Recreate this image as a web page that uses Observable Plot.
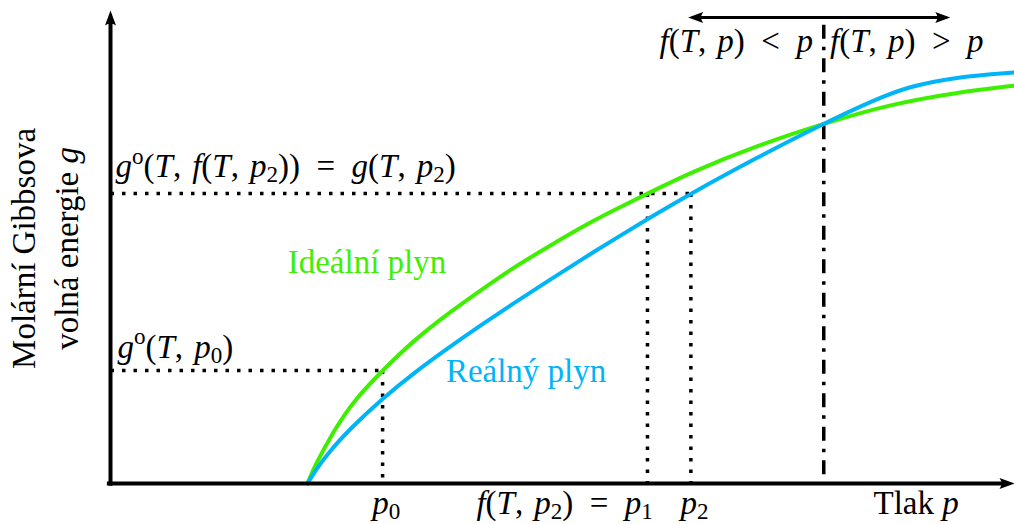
<!DOCTYPE html>
<html><head><meta charset="utf-8">
<script src="https://cdn.jsdelivr.net/npm/d3@7"></script>
<script src="https://cdn.jsdelivr.net/npm/@observablehq/plot@0.6"></script>
<style>body{margin:0;background:#fff;} #chart svg{display:block;}</style>
</head><body><div id="chart"></div>
<script>
// Ideal gas curve (pressure p, molar Gibbs energy g) — arbitrary units
const pIdeal = [2.18, 2.25, 2.47, 2.69, 3.01, 3.35, 3.73, 4.09, 4.46, 4.83, 5.20, 5.56, 5.94, 6.42, 7.16, 7.89, 8.63, 9.37, 9.99];
const gIdeal = [0, 0.34, 1.12, 1.75, 2.39, 3.02, 3.59, 4.08, 4.57, 4.99, 5.41, 5.77, 6.13, 6.58, 7.15, 7.61, 8.02, 8.27, 8.41];
// Real gas curve
const pReal = [2.18, 2.25, 2.40, 2.65, 3.01, 3.35, 3.73, 4.09, 4.46, 4.83, 5.20, 5.56, 5.94, 6.42, 7.16, 7.89, 8.44, 8.82, 9.37, 9.99];
const gReal = [0, 0.23, 0.63, 1.16, 1.80, 2.33, 2.86, 3.34, 3.81, 4.27, 4.72, 5.15, 5.59, 6.13, 6.90, 7.61, 8.10, 8.39, 8.60, 8.69];
// Marked pressures / energies
const p0 = 3.01, g0 = 2.39, p1 = 5.94, p2 = 6.42, g2 = 6.13, pSwitch = 7.89;
// Label texts ($...$ = math)
const labelTexts = [
  "$g^o(T, f(T, p_2)) = g(T, p_2)$",
  "$g^o(T, p_0)$",
  "Ideální plyn",
  "Reálný plyn",
  "$p_0$",
  "$f(T, p_2) = p_1$",
  "$p_2$",
  "Tlak $p$",
  "$f(T, p) < p$",
  "$f(T, p) > p$"
];
const yTitle = ["Molární Gibbsova", "volná energie $g$"];

const green = "#3ef000", blue = "#00b4f8";
const ideal = pIdeal.map((p, i) => ({p, g: gIdeal[i]}));
const real = pReal.map((p, i) => ({p, g: gReal[i]}));

const guides = [
  {x1: 0, y1: g0, x2: p0, y2: g0},
  {x1: p0, y1: g0, x2: p0, y2: 0},
  {x1: 0, y1: g2, x2: p2, y2: g2},
  {x1: p1, y1: g2, x2: p1, y2: 0},
  {x1: p2, y1: g2, x2: p2, y2: 0}
];

const labels = [
  {t: labelTexts[0], p: 0.055, g: 6.47, a: "start", c: "black"},
  {t: labelTexts[1], p: 0.077, g: 2.66, a: "start", c: "black"},
  {t: labelTexts[2], p: 1.96, g: 4.44, a: "start", c: green},
  {t: labelTexts[3], p: 3.71, g: 2.14, a: "start", c: blue},
  {t: labelTexts[4], p: p0 + 0.04, g: -0.655, a: "middle", c: "black"},
  {t: labelTexts[5], p: 6.0, g: -0.655, a: "end", c: "black"},
  {t: labelTexts[6], p: p2 + 0.04, g: -0.655, a: "middle", c: "black"},
  {t: labelTexts[7], p: 8.44, g: -0.655, a: "start", c: "black"},
  {t: labelTexts[8], p: 7.77, g: 9.12, a: "end", c: "black"},
  {t: labelTexts[9], p: 7.96, g: 9.12, a: "start", c: "black"}
];
const titleLines = [
  {t: yTitle[0], p: -0.84, g: 4.97},
  {t: yTitle[1], p: -0.365, g: 4.97}
];

const arrowHead = {
  draw(ctx) {
    ctx.moveTo(0, 0);
    ctx.lineTo(5.5, 15);
    ctx.quadraticCurveTo(0, 11, -5.5, 15);
    ctx.closePath();
  }
};
const heads = [
  {p: 0, g: 10, r: 0},
  {p: 10, g: 0, r: 90},
  {p: 6.39, g: 9.85, r: -90},
  {p: 9.29, g: 9.85, r: 90}
];
const shafts = [
  {x1: 0, y1: -0.05, x2: 0, y2: 9.8, w: 4},
  {x1: -0.04, y1: 0, x2: 9.9, y2: 0, w: 4},
  {x1: 6.48, y1: 9.85, x2: 9.2, y2: 9.85, w: 3}
];

const textMarks = ["start", "middle", "end"].map(a =>
  Plot.text(labels.filter(d => d.a === a), {x: "p", y: "g", text: "t", textAnchor: a, fill: "c", fontSize: 33, lineAnchor: "bottom"})
);

const chart = Plot.plot({
  width: 1014, height: 524,
  marginLeft: 110, marginRight: 0, marginTop: 10, marginBottom: 41,
  x: {domain: [0, 10], axis: null},
  y: {domain: [0, 10], axis: null},
  style: {fontFamily: "'Liberation Serif', serif", background: "white", overflow: "visible"},
  marks: [
    Plot.link(guides, {x1: "x1", y1: "y1", x2: "x2", y2: "y2", stroke: "black", strokeWidth: 3.5, strokeDasharray: "3.5,8"}),
    Plot.link([{x: pSwitch}], {x1: "x", x2: "x", y1: () => 9.7, y2: () => 0, stroke: "black", strokeWidth: 3.5, strokeDasharray: "14,8,3.5,8"}),
    Plot.line(ideal, {x: "p", y: "g", stroke: green, strokeWidth: 4, curve: "basis"}),
    Plot.line(real, {x: "p", y: "g", stroke: blue, strokeWidth: 4, curve: "basis"}),
    Plot.link(shafts, {x1: "x1", y1: "y1", x2: "x2", y2: "y2", stroke: "black", strokeWidth: "w"}),
    Plot.dot(heads, {x: "p", y: "g", rotate: "r", symbol: arrowHead, fill: "black", stroke: null}),
    ...textMarks,
    Plot.text(titleLines, {x: "p", y: "g", text: "t", rotate: -90, textAnchor: "middle", fill: "black", fontSize: 33, lineAnchor: "bottom"})
  ]
});

// simple math typesetting: italic letters, sub/superscripts, TeX-like spacing
const NS = "http://www.w3.org/2000/svg";
function typeset(el) {
  const src = el.textContent;
  if (!src.includes("$")) return;
  el.textContent = "";
  let pending = 0;
  const add = (str, italic, script) => {
    const t = document.createElementNS(NS, "tspan");
    t.textContent = str;
    if (italic) t.setAttribute("font-style", "italic");
    const shift = script === "sub" ? 0.15 : script === "sup" ? -0.42 : 0;
    const scale = script ? 0.7 : 1;
    if (script) t.setAttribute("font-size", "70%");
    const d = shift - pending;
    if (Math.abs(d) > 1e-9) t.setAttribute("dy", (d / scale).toFixed(3) + "em");
    pending = shift;
    el.appendChild(t);
  };
  src.split("$").forEach((seg, i) => {
    if (i % 2 === 0) { if (seg) add(seg, false, null); return; }
    seg = seg.replace(/ ([=<>]) /g, "\u2002$1\u2002").replace(/, /g, ",\u2004");
    for (let k = 0; k < seg.length; k++) {
      const c = seg[k];
      if ((c === "_" || c === "^") && k + 1 < seg.length) {
        const s = seg[++k];
        add(s, c === "_" && /[A-Za-z]/.test(s), c === "_" ? "sub" : "sup");
      } else add(c, /[A-Za-z]/.test(c), null);
    }
  });
}
chart.querySelectorAll("text").forEach(typeset);
document.getElementById("chart").appendChild(chart);
</script>
</body></html>
